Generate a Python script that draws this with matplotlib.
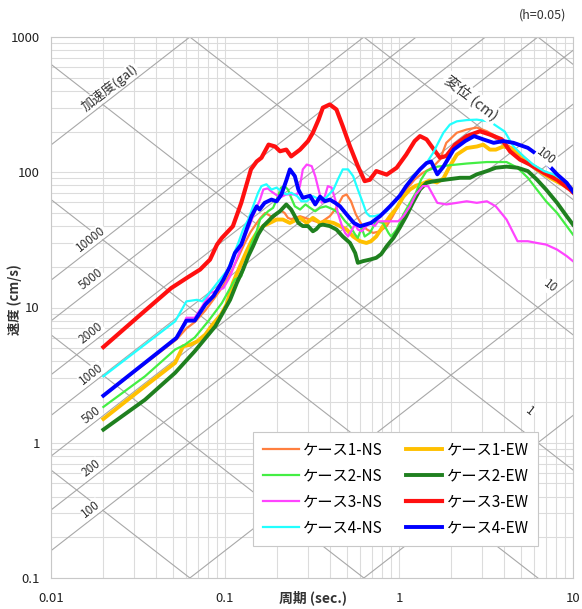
import numpy as np
import matplotlib
matplotlib.use("Agg")
import matplotlib.pyplot as plt
from matplotlib.ticker import LogLocator, NullFormatter

plt.rcParams['font.family'] = ['Noto Sans CJK JP', 'DejaVu Sans']

# ---- data: period (sec) and pseudo velocity response (cm/s), h=0.05 ----
t_1ns = [0.02, 0.0526, 0.06, 0.067, 0.077, 0.086, 0.098, 0.11, 0.12, 0.13,
         0.14, 0.15, 0.16, 0.17, 0.18, 0.19, 0.2, 0.21, 0.22, 0.23,
         0.24, 0.27, 0.308, 0.352, 0.40, 0.437, 0.475, 0.50, 0.53, 0.565,
         0.61, 0.655, 0.71, 0.778, 0.85, 0.92, 1.01, 1.1, 1.23, 1.37,
         1.55, 1.72, 1.87, 2.15, 2.45, 2.8, 3.2, 3.6, 4.15, 4.8,
         5.66, 6.8, 8.1, 9.6, 10]
v_1ns = [2.23, 5.8, 7.0, 7.8, 9.5, 11.5, 14.5, 19, 24, 30,
         36, 41, 46, 50, 48, 46, 50, 52, 50, 46,
         45, 47.3, 44.7, 42.2, 47.3, 54.6, 66.5, 68.5, 61, 48.8,
         41, 37.7, 35.6, 36.6, 40, 47.3, 59.4, 74.5, 88.3, 99,
         108, 124, 165, 196, 207, 214, 201, 185, 160, 143,
         117, 102, 91, 79, 76]

t_1ew = [0.02, 0.0347, 0.0517, 0.0575, 0.063, 0.069, 0.077, 0.085, 0.095, 0.102,
         0.111, 0.122, 0.133, 0.142, 0.152, 0.166, 0.181, 0.198, 0.215, 0.236,
         0.27, 0.295, 0.32, 0.352, 0.38, 0.42, 0.458, 0.50, 0.545, 0.597,
         0.65, 0.69, 0.74, 0.81, 0.888, 0.97, 1.06, 1.156, 1.25, 1.37,
         1.5, 1.65, 1.8, 1.96, 2.15, 2.45, 2.8, 3.05, 3.33, 3.6,
         3.97, 4.34, 4.8, 5.5, 6.2, 7.37, 8.8, 10]
v_1ew = [1.50, 2.62, 3.9, 5.17, 5.3, 5.6, 6.3, 7.5, 8.9, 10.5,
         15.2, 20.2, 26, 31, 35.6, 40, 42.2, 44.7, 44.7, 42.2,
         46, 42.2, 46, 42.2, 43.4, 42.2, 40, 37.7, 33.5, 30.9,
         30, 30.9, 33.5, 40, 47.3, 54.5, 66, 74.5, 79.5, 82.5,
         87, 84, 90, 111, 135, 151, 155, 160, 147, 147,
         155, 151, 140, 120, 105, 91, 80.5, 72.5]

t_2ns = [0.02, 0.0347, 0.0517, 0.0587, 0.067, 0.080, 0.096, 0.114, 0.124, 0.133,
         0.142, 0.152, 0.159, 0.166, 0.177, 0.189, 0.20, 0.21, 0.22, 0.23,
         0.24, 0.252, 0.27, 0.29, 0.308, 0.33, 0.352, 0.38, 0.42, 0.458,
         0.49, 0.523, 0.56, 0.58, 0.61, 0.635, 0.68, 0.74, 0.81, 0.87,
         0.90, 0.97, 1.06, 1.156, 1.25, 1.34, 1.44, 1.66, 1.87, 2.45,
         3.2, 4.15, 4.8, 5.5, 6.2, 7.0, 8.1, 9.2, 10]
v_2ns = [1.84, 3.1, 4.89, 5.3, 6.0, 7.9, 10.8, 16.1, 17, 22.6,
         29.8, 36.6, 44.7, 47.3, 51.5, 54.6, 64.7, 77, 79, 74.5,
         64.7, 56, 53, 57.8, 54.6, 51.5, 54.6, 56, 53, 48.8,
         43.4, 40, 34.6, 32.7, 38.9, 33.5, 35.6, 43.4, 42.2, 35.6,
         33.5, 37.7, 48.8, 59.4, 70.6, 88.3, 102, 110, 112, 116,
         119, 119, 108, 91, 74.5, 61, 50, 40, 34.6]

t_2ew = [0.02, 0.0347, 0.0517, 0.067, 0.088, 0.107, 0.117, 0.127, 0.136, 0.145,
         0.155, 0.166, 0.177, 0.189, 0.207, 0.225, 0.24, 0.252, 0.264, 0.28,
         0.30, 0.32, 0.335, 0.35, 0.365, 0.40, 0.437, 0.475, 0.523, 0.56,
         0.58, 0.62, 0.68, 0.74, 0.79, 0.85, 0.93, 1.01, 1.1, 1.2,
         1.32, 1.44, 1.57, 1.87, 2.24, 2.56, 2.8, 3.2, 3.6, 4.15,
         4.8, 5.5, 6.2, 7.0, 8.1, 9.2, 10]
v_2ew = [1.25, 2.08, 3.29, 4.75, 7.27, 11.4, 15.2, 19.1, 23.9, 28.4,
         34.6, 40, 43.4, 47.3, 51.5, 57.8, 53, 47.3, 42.2, 40,
         40, 36.6, 38, 40.5, 41, 40, 37.7, 33.5, 30, 25.3,
         21.4, 22, 22.6, 23.3, 24.8, 28.4, 32.7, 38.9, 47.3, 59.4,
         74.5, 83.5, 85.6, 88.3, 91, 91, 96.5, 102, 108, 110,
         108, 102, 88.3, 74.5, 59.4, 47.3, 41]

t_3ns = [0.02, 0.0526, 0.058, 0.06, 0.067, 0.074, 0.082, 0.09, 0.098, 0.107,
         0.12, 0.13, 0.142, 0.152, 0.159, 0.166, 0.176, 0.185, 0.207, 0.225,
         0.26, 0.27, 0.28, 0.295, 0.315, 0.33, 0.345, 0.36, 0.375, 0.39,
         0.41, 0.43, 0.445, 0.467, 0.49, 0.51, 0.53, 0.56, 0.58, 0.61,
         0.65, 0.68, 0.725, 0.76, 0.81, 0.92, 0.99, 1.06, 1.156, 1.25,
         1.37, 1.47, 1.66, 1.87, 2.15, 2.45, 2.8, 3.2, 3.6, 4.15,
         4.8, 5.5, 6.2, 7.0, 8.1, 9.2, 10]
v_3ns = [2.23, 5.96, 7.6, 8.4, 8.4, 10.2, 12.8, 13.3, 13.9, 17,
         25, 33, 44, 55, 62.8, 74.5, 76, 72, 65, 68.6,
         68.6, 80, 105, 114, 111, 93.6, 74.5, 59.4, 66.5, 79,
         77, 62.8, 50, 41.2, 35.6, 33.5, 36.6, 41.2, 37.7, 36.6,
         40, 42.2, 40, 43.4, 43.4, 43.4, 43.4, 47.3, 56, 68.6,
         79, 79, 59.4, 57.8, 59.4, 61, 59.4, 61, 56, 44.7,
         30.9, 30.9, 30, 29.2, 26.8, 24, 22]

t_3ew = [0.02, 0.0325, 0.049, 0.061, 0.072, 0.082, 0.090, 0.096, 0.111, 0.124,
         0.141, 0.152, 0.162, 0.178, 0.194, 0.207, 0.225, 0.24, 0.27, 0.30,
         0.32, 0.345, 0.365, 0.40, 0.437, 0.475, 0.523, 0.58, 0.635, 0.68,
         0.74, 0.85, 0.97, 1.1, 1.23, 1.32, 1.44, 1.57, 1.72, 1.87,
         2.1, 2.45, 2.92, 3.33, 3.9, 4.34, 4.96, 5.66, 6.8, 8.1,
         9.6, 10]
v_3ew = [5.1, 8.8, 13.9, 16.7, 19.1, 22.6, 29.2, 32.7, 39.9, 59.4,
         105, 120, 128, 160, 155, 143, 147, 131, 147, 170,
         196, 245, 300, 317, 291, 219, 155, 111, 86, 88,
         102, 96, 108, 135, 170, 185, 175, 150, 128, 132,
         160, 185, 201, 190, 175, 143, 124, 114, 99, 88,
         74.5, 71]

t_4ns = [0.02, 0.0517, 0.06, 0.069, 0.074, 0.084, 0.104, 0.111, 0.119, 0.127,
         0.136, 0.145, 0.155, 0.162, 0.173, 0.185, 0.198, 0.211, 0.225, 0.24,
         0.26, 0.275, 0.295, 0.32, 0.352, 0.38, 0.42, 0.445, 0.475, 0.51,
         0.545, 0.58, 0.62, 0.65, 0.68, 0.725, 0.778, 0.85, 0.92, 1.01,
         1.1, 1.2, 1.32, 1.44, 1.57, 1.72, 1.8, 1.96, 2.15, 2.45,
         2.8, 3.33, 4.05, 4.55, 5.2, 5.9, 6.8, 7.8, 8.9, 10]
v_4ns = [3.1, 7.9, 11.1, 11.4, 11.1, 13.5, 19.1, 23.9, 29.8, 37.7,
         44.7, 56, 70.6, 79, 81.5, 74.5, 77, 72, 68.6, 70.6,
         66.5, 61, 61, 66.5, 62.8, 64.7, 74.5, 88.3, 105, 105,
         93.6, 74.5, 59.4, 50, 47.3, 47.3, 48.8, 51.5, 57.8, 66.5,
         79, 93.6, 105, 117, 139, 175, 196, 225, 238, 243,
         245, 237, 200, 155, 131, 114, 102, 96, 86, 74.5]

t_4ew = [0.02, 0.0526, 0.060, 0.067, 0.077, 0.086, 0.098, 0.107, 0.114, 0.124,
         0.133, 0.142, 0.152, 0.158, 0.169, 0.185, 0.198, 0.211, 0.226, 0.236,
         0.252, 0.264, 0.28, 0.308, 0.33, 0.352, 0.375, 0.40, 0.43, 0.458,
         0.50, 0.55, 0.597, 0.65, 0.69, 0.778, 0.888, 1.01, 1.1, 1.2,
         1.32, 1.44, 1.53, 1.66, 1.8, 2.06, 2.4, 2.7, 3.05, 3.5,
         3.97, 4.55, 5.5, 6.6, 8.1, 9.2, 10]
v_4ew = [2.23, 5.96, 8.0, 8.0, 10.5, 12.2, 16.1, 20.2, 25.3, 29.2,
         37.7, 47.3, 56, 53, 59.4, 62.8, 60.9, 68.6, 88.3, 105,
         93.6, 74.5, 64.7, 67, 57.8, 66, 61, 62.8, 59.4, 56,
         48.8, 42.2, 39.9, 41.2, 42.2, 47.3, 56, 67, 79, 91,
         105, 117, 120, 96.5, 110, 147, 170, 185, 175, 165,
         170, 165, 151.5, 128, 96.5, 83.5, 72]

# tripartite guide lines
acc_lines = [1, 10, 100, 200, 500, 1000, 2000, 5000, 10000, 100000]   # gal
acc_labels = [100, 200, 500, 1000, 2000, 5000, 10000]
disp_lines = [0.001, 0.01, 0.1, 1, 10, 100, 1000]                   # cm
disp_labels = [(100, 7.0, 131), (10, 7.37, 14.3), (1, 5.66, 1.70)]

fig = plt.figure(figsize=(5.82, 6.09), dpi=100)
ax = fig.add_axes([51/582, 1-578/609, 522/582, 541/609])
ax.set_xscale('log')
ax.set_yscale('log')

ax.xaxis.set_minor_locator(LogLocator(base=10, subs=np.arange(2, 10)))
ax.yaxis.set_minor_locator(LogLocator(base=10, subs=np.arange(2, 10)))
ax.xaxis.set_minor_formatter(NullFormatter())
ax.yaxis.set_minor_formatter(NullFormatter())
ax.grid(True, which='both', color='#dcdcdc', lw=0.8)
ax.set_axisbelow(True)

tt = np.array([0.005, 20])
for a in acc_lines:
    ax.plot(tt, a * tt / (2*np.pi), color='#a8a8a8', lw=0.8, zorder=1)
for d in disp_lines:
    ax.plot(tt, 2*np.pi * d / tt, color='#a8a8a8', lw=0.8, zorder=1)

series = [
    ('ケース1-NS', t_1ns, v_1ns, '#ff7f3f', 1.6),
    ('ケース1-EW', t_1ew, v_1ew, '#ffc000', 2.8),
    ('ケース2-NS', t_2ns, v_2ns, '#44ee44', 1.6),
    ('ケース2-EW', t_2ew, v_2ew, '#1f801f', 2.8),
    ('ケース3-NS', t_3ns, v_3ns, '#ff44ff', 1.6),
    ('ケース3-EW', t_3ew, v_3ew, '#ff1010', 3.0),
    ('ケース4-NS', t_4ns, v_4ns, '#22ffff', 1.6),
    ('ケース4-EW', t_4ew, v_4ew, '#0000ff', 2.8),
]
handles = []
for i, (lab, t, v, c, lw) in enumerate(series):
    h, = ax.plot(t, v, color=c, lw=lw, label=lab, zorder=3 + i * 0.1,
                 solid_joinstyle='round')
    handles.append(h)

ax.set_xlim(0.01, 10)
ax.set_ylim(0.1, 1000)

ax.set_xticks([0.01, 0.1, 1, 10])
ax.set_xticklabels(['0.01', '0.1', '1', '10'])
ax.set_yticks([0.1, 1, 10, 100, 1000])
ax.set_yticklabels(['0.1', '1', '10', '100', '1000'])
ax.tick_params(which='both', length=0, labelsize=9.5, colors='#222222')
ax.tick_params(axis='x', pad=10)
ax.tick_params(axis='y', pad=8)
for s in ax.spines.values():
    s.set_color('#c8c8c8')

box = dict(facecolor='white', edgecolor='none', pad=0.5)
ang = np.degrees(np.arctan2(541/4, 522/3))
for a in acc_labels:
    tl = 0.017
    ax.text(tl, a * tl / (2*np.pi) * 1.19, str(a), rotation=ang, ha='center',
            va='center', fontsize=8.5, color='#333333', zorder=6, bbox=box,
            rotation_mode='anchor')
for d, tl, sl in disp_labels:
    ax.text(tl, sl, str(d), rotation=-ang, ha='center', va='center',
            fontsize=8.5, color='#333333', zorder=6, bbox=box,
            rotation_mode='anchor')

ax.text(110/582, 1-88/609, '加速度(gal)', transform=fig.transFigure,
        rotation=ang, ha='center', va='center', fontsize=9.5, color='#333333',
        zorder=6, bbox=box, rotation_mode='anchor')
ax.text(471/582, 1-98/609, '変位 (cm)', transform=fig.transFigure,
        rotation=-ang, ha='center', va='center', fontsize=10.5, color='#333333',
        zorder=6, bbox=dict(facecolor='white', edgecolor='none', pad=1.5),
        rotation_mode='anchor')

order = [0, 2, 4, 6, 1, 3, 5, 7]
leg = ax.legend([handles[i] for i in order], [series[i][0] for i in order],
                ncol=2, loc='lower right', bbox_to_anchor=(0.933, 0.059),
                borderaxespad=0, fontsize=11, frameon=True, fancybox=False,
                framealpha=1, edgecolor='#c8c8c8', handlelength=2.35,
                labelspacing=0.6, columnspacing=1.5, handletextpad=0.3,
                borderpad=0.62)
leg.set_zorder(10)
leg.get_frame().set_linewidth(0.8)

fig.text(313/582, 1-598/609, '周期 (sec.)', ha='center', va='center',
         fontsize=10, fontweight='bold', color='#333333')
fig.text(15/582, 1-300/609, '速度 (cm/s)', rotation=90, ha='center',
         va='center', fontsize=9.5, fontweight='bold', color='#333333')
fig.text(543/582, 1-15/609, '(h=0.05)', ha='center', va='center',
         fontsize=9, color='#333333')

fig.savefig('out.png', dpi=100, facecolor='white')
